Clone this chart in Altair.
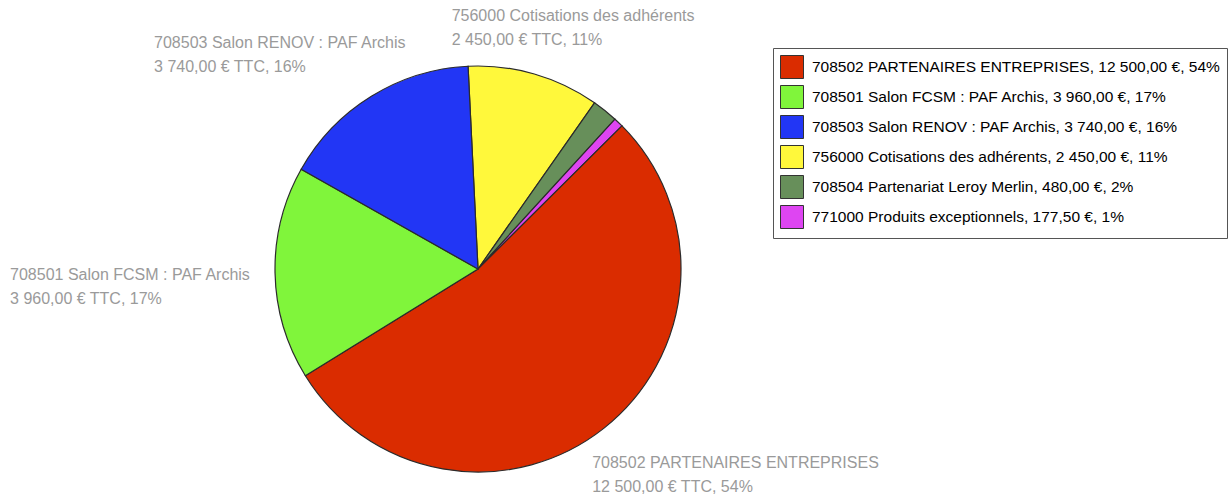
import altair as alt
import pandas as pd

# Slices in clockwise order from 12 o'clock
codes = ["756000", "708504", "771000", "708502", "708501", "708503"]
names = ["Cotisations des adhérents", "Partenariat Leroy Merlin", "Produits exceptionnels",
         "PARTENAIRES ENTREPRISES", "Salon FCSM : PAF Archis", "Salon RENOV : PAF Archis"]
values = [2450.0, 480.0, 177.5, 12500.0, 3960.0, 3740.0]
amounts = ["2 450,00", "480,00", "177,50", "12 500,00", "3 960,00", "3 740,00"]
percents = ["11%", "2%", "1%", "54%", "17%", "16%"]

# Legend order and colours
legend_codes = ["708502", "708501", "708503", "756000", "708504", "771000"]
legend_colors = ["#DA2C00", "#80F53B", "#2236F5", "#FFF83B", "#678F5A", "#DE45F2"]

labelled = ["756000", "708503", "708501", "708502"]

rows = []
for i, (c, n, v, a, p) in enumerate(zip(codes, names, values, amounts, percents)):
    rows.append({
        "code": c,
        "ord": i,
        "value": v,
        "legend": f"{c} {n}, {a} €, {p}",
        "pie": f"{c} {n}\n{a} € TTC, {p}",
    })
df = pd.DataFrame(rows)
legend_domain = [df.loc[df.code == c, "legend"].iloc[0] for c in legend_codes]

CX, CY, R = 478, 269, 203
START = -0.049
theta = alt.Theta("value:Q", stack=True,
                  scale=alt.Scale(range=[START, START + 6.283185307]))

base = alt.Chart(df)

arcs = base.mark_arc(outerRadius=R, stroke="#2b2b2b", strokeWidth=1.2).encode(
    theta=theta,
    order=alt.Order("ord:Q"),
    x=alt.value(CX),
    y=alt.value(CY),
    color=alt.Color("legend:N",
                    scale=alt.Scale(domain=legend_domain, range=legend_colors),
                    legend=alt.Legend(orient="none", legendX=773, legendY=48, title=None,
                                      symbolType="square", symbolSize=529,
                                      symbolStrokeColor="#333333", symbolStrokeWidth=1,
                                      labelFontSize=15.5, labelColor="#000000",
                                      labelFont="Liberation Sans", labelLimit=0,
                                      labelOffset=8, rowPadding=2, padding=7,
                                      strokeColor="#555555", fillColor="#ffffff",
                                      symbolOpacity=1)),
    tooltip=["legend:N"],
)

# label offsets (dx, dy) relative to the mid-angle anchor at radius 215
offsets = {
    "756000": (-86, -41),
    "708503": (-211, -38),
    "708501": (-253, 7),
    "708502": (-19, 30),
}

layers = [arcs]
for c in labelled:
    dx, dy = offsets[c]
    t = base.transform_calculate(
        lbl=f"datum.code == '{c}' ? datum.pie : ''"
    ).mark_text(radius=215, align="left", baseline="alphabetic", dx=dx, dy=dy,
                lineBreak="\n", lineHeight=24, fontSize=16, font="Liberation Sans",
                color="#9a9a9a").encode(
        theta=theta,
        order=alt.Order("ord:Q"),
        x=alt.value(CX),
        y=alt.value(CY),
        text="lbl:N",
    )
    layers.append(t)

chart = alt.layer(*layers).properties(
    width=1230, height=497, autosize=alt.AutoSizeParams(type="none"), padding=0,
    background="#ffffff",
).configure_view(stroke=None)

chart.save("out.html", embed_options={"renderer": "svg", "actions": False})
